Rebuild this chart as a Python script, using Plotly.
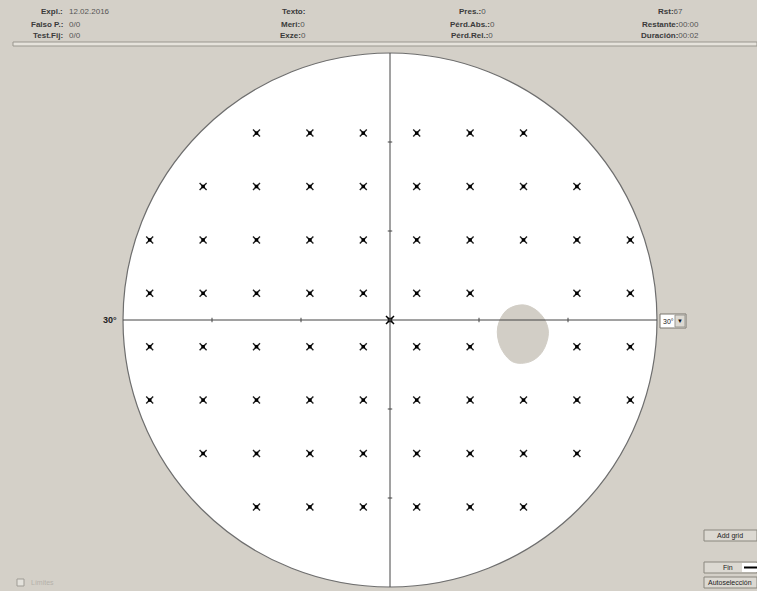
import plotly.graph_objects as go

# ---- data ----
row_y = [21, 15, 9, 3, -3, -9, -15, -21]
row_x = [
    [-15, -9, -3, 3, 9, 15],
    [-21, -15, -9, -3, 3, 9, 15, 21],
    [-27, -21, -15, -9, -3, 3, 9, 15, 21, 27],
    [-27, -21, -15, -9, -3, 3, 9, 21, 27],
    [-27, -21, -15, -9, -3, 3, 9, 21, 27],
    [-27, -21, -15, -9, -3, 3, 9, 15, 21, 27],
    [-21, -15, -9, -3, 3, 9, 15, 21],
    [-15, -9, -3, 3, 9, 15],
]
center_x = [0]
center_y = [0]
blind_x = [14.9, 16.3, 17.4, 17.8, 17.1, 15.7, 13.8, 12.4, 12.1, 13.1, 14.9]
blind_y = [1.7, 1.2, 0.0, -1.5, -3.6, -4.7, -4.7, -3.0, -0.8, 1.1, 1.7]
field_radius = 30
axis_ticks = [-20, -10, 10, 20]

header_left = [("Expl.:", "12.02.2016"), ("Falso P.:", "0/0"), ("Test.Fij:", "0/0")]
header_mid = [("Texto:", ""), ("Meri:", "0"), ("Exze:", "0")]
header_r1 = [("Pres.:", "0"), ("Pérd.Abs.:", "0"), ("Pérd.Rel.:", "0")]
header_r2 = [("Rst:", "67"), ("Restante:", "00:00"), ("Duración:", "00:02")]

W, H = 757, 591
BG = "#d4d0c8"
FONT = "Liberation Sans"


def px(x):
    return x / W


def py(y):
    return 1 - y / H


pts_x, pts_y = [], []
for yv, xs in zip(row_y, row_x):
    for xv in xs:
        pts_x.append(xv)
        pts_y.append(yv)

fig = go.Figure()

# blind spot
fig.add_trace(go.Scatter(x=blind_x, y=blind_y, mode="lines", fill="toself",
                         fillcolor="#d2cec6", line=dict(color="#d2cec6", width=1, shape="spline"),
                         hoverinfo="skip", showlegend=False))
# test points
fig.add_trace(go.Scatter(x=pts_x, y=pts_y, mode="markers",
                         marker=dict(symbol="x-thin", size=7, color="#222222",
                                     line=dict(width=1.4, color="#222222")),
                         showlegend=False))
fig.add_trace(go.Scatter(x=pts_x, y=pts_y, mode="markers",
                         marker=dict(symbol="square", size=3.5, color="#000000", line=dict(width=0)),
                         hoverinfo="skip", showlegend=False))
fig.add_trace(go.Scatter(x=center_x, y=center_y, mode="markers",
                         marker=dict(symbol="x-thin", size=8, color="#000000",
                                     line=dict(width=1.5, color="#000000")),
                         showlegend=False))
fig.add_trace(go.Scatter(x=center_x, y=center_y, mode="markers",
                         marker=dict(symbol="square", size=4.5, color="#000000", line=dict(width=0)),
                         hoverinfo="skip", showlegend=False))

shapes = []
# field circle
shapes.append(dict(type="circle", xref="x", yref="y", x0=-field_radius, y0=-field_radius,
                   x1=field_radius, y1=field_radius, fillcolor="white",
                   line=dict(color="#6e6e6e", width=1.2), layer="below"))
# axes
shapes.append(dict(type="line", xref="x", yref="y", x0=-field_radius, x1=field_radius, y0=0, y1=0,
                   line=dict(color="#444444", width=1)))
shapes.append(dict(type="line", xref="x", yref="y", x0=0, x1=0, y0=-field_radius, y1=field_radius,
                   line=dict(color="#444444", width=1)))
for t in axis_ticks:
    shapes.append(dict(type="line", xref="x", yref="y", x0=t, x1=t, y0=-0.25, y1=0.25,
                       line=dict(color="#444444", width=1)))
    shapes.append(dict(type="line", xref="x", yref="y", x0=-0.25, x1=0.25, y0=t, y1=t,
                       line=dict(color="#444444", width=1)))

# header separator / progress bar
shapes.append(dict(type="rect", xref="paper", yref="paper", x0=px(13), x1=px(757), y0=py(46), y1=py(42),
                   fillcolor="#e6e3dc", line=dict(color="#9a978f", width=1)))


def button(x0, y0, x1, y1):
    shapes.append(dict(type="rect", xref="paper", yref="paper", x0=px(x0), x1=px(x1), y0=py(y1), y1=py(y0),
                       fillcolor="#dcd9d2", line=dict(color="#8a877f", width=1)))


button(704, 530, 757, 541)
button(704, 562, 757, 573)
button(704, 577, 757, 588)
# Fin white box with line
shapes.append(dict(type="rect", xref="paper", yref="paper", x0=px(742), x1=px(757), y0=py(572), y1=py(563),
                   fillcolor="white", line=dict(width=0)))
shapes.append(dict(type="line", xref="paper", yref="paper", x0=px(744), x1=px(757), y0=py(567.5), y1=py(567.5),
                   line=dict(color="black", width=2)))
# dropdown box
shapes.append(dict(type="rect", xref="paper", yref="paper", x0=px(660), x1=px(686), y0=py(328), y1=py(314),
                   fillcolor="white", line=dict(color="#7a776f", width=1)))
shapes.append(dict(type="rect", xref="paper", yref="paper", x0=px(675), x1=px(685), y0=py(327), y1=py(315),
                   fillcolor="#dcd9d2", line=dict(color="#9a978f", width=1)))
# checkbox
shapes.append(dict(type="rect", xref="paper", yref="paper", x0=px(17), x1=px(24), y0=py(586), y1=py(579),
                   fillcolor="#e4e2dc", line=dict(color="#9f9c95", width=1)))

ann = []


def text(x, y, s, anchor="left", size=8, color="#333333", bold=False):
    ann.append(dict(x=px(x), y=py(y), xref="paper", yref="paper", text=("<b>%s</b>" % s) if bold else s,
                    showarrow=False, xanchor=anchor, yanchor="middle",
                    font=dict(family=FONT, size=size, color=color)))


for i, (lab, val) in enumerate(header_left):
    yy = 12 + 12 * i
    text(65, yy, lab, anchor="right", bold=True, color="#3a3a3a")
    text(67, yy, val, anchor="left", color="#555555")

for group, xc in ((header_mid, 293), (header_r1, 472), (header_r2, 670)):
    for i, (lab, val) in enumerate(group):
        yy = 12 + 12 * i
        ann.append(dict(x=px(xc), y=py(yy), xref="paper", yref="paper",
                        text="<b>%s</b><span style='color:#555555'>%s</span>" % (lab, val),
                        showarrow=False, xanchor="center", yanchor="middle",
                        font=dict(family=FONT, size=8, color="#3a3a3a")))

text(119, 320, "30°", anchor="right", size=9, color="#222222", bold=True)
text(661, 321, "30°", anchor="left", size=7, color="#222222")
text(680, 321, "▼", anchor="center", size=6, color="#111111")
text(730, 535.5, "Add grid", anchor="center", size=7, color="#222222")
text(728, 567.5, "Fin", anchor="center", size=7, color="#222222")
text(730, 582.5, "Autoselección", anchor="center", size=7, color="#222222")
text(29, 582.5, "Límites", anchor="left", size=7, color="#b4b1aa")

xr = [-390 / 8.9, (W - 390) / 8.9]
yr = [-(H - 320) / 8.9, 320 / 8.9]
fig.update_layout(
    width=W, height=H, margin=dict(l=0, r=0, t=0, b=0),
    paper_bgcolor=BG, plot_bgcolor=BG,
    xaxis=dict(range=xr, visible=False, fixedrange=True),
    yaxis=dict(range=yr, visible=False, fixedrange=True),
    shapes=shapes, annotations=ann, showlegend=False,
)
fig.write_html("out.html", config={"displayModeBar": False},
               post_script="document.body.style.margin='0';document.body.style.overflow='hidden';")
